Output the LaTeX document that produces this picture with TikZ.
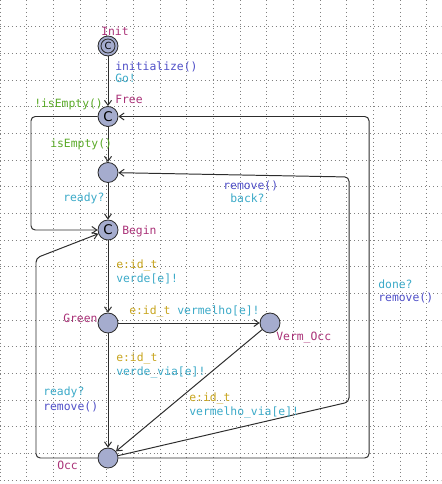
\documentclass[tikz,border=0pt]{standalone}
\usepackage{fontspec}
\newfontfamily\upmono{DejaVu Sans Mono}
\newfontfamily\upsans{DejaVu Sans}
\usetikzlibrary{arrows.meta}
\definecolor{locfill}{RGB}{165,172,206}
\definecolor{edgec}{RGB}{45,45,45}
\definecolor{namec}{RGB}{170,50,120}
\definecolor{guardc}{RGB}{90,170,40}
\definecolor{syncc}{RGB}{60,170,200}
\definecolor{updc}{RGB}{80,80,200}
\definecolor{selc}{RGB}{200,165,30}
\tikzset{
  loc/.style={circle,draw=edgec,fill=locfill,minimum size=14.2pt,inner sep=0pt,line width=0.6pt},
  cmt/.style={loc,font=\upsans\fontsize{9.5}{9.5}\selectfont},
  lbl/.style={anchor=west,inner sep=0pt,font=\upmono\fontsize{8.1}{9}\selectfont},
  tr/.style={draw=edgec,line width=0.7pt,-{Straight Barb[length=3.5pt,width=5pt]},rounded corners=3pt},
  griddot/.style={gray,line width=0.7pt,dash pattern=on 0.7pt off 2.1pt}
}
\begin{document}
\begin{tikzpicture}[x=0.025cm,y=-0.025cm]
\useasboundingbox (0,0) rectangle (441,484);
\foreach \k in {0,...,16}
  \draw[griddot] (\k*26.67,0) -- (\k*26.67,484);
\foreach \k in {1,...,18}
  \draw[griddot] (0,\k*26.67) -- (441,\k*26.67);
\node[cmt,font=\upsans\fontsize{7}{7}\selectfont] (init) at (108,46) {C};
\draw[edgec,line width=0.6pt] (init.center) circle[radius=7];
\node[cmt] (free) at (108,116.5) {C};
\node[loc] (mid) at (108,172.5) {};
\node[cmt] (begin) at (108,230) {C};
\node[loc] (green) at (108,323) {};
\node[loc] (verm) at (270,323) {};
\node[loc] (occ) at (108,458) {};
\coordinate (a1) at (31,116.5);
\coordinate (a2) at (31,230);
\coordinate (b1) at (36,458);
\coordinate (b2) at (36,258);
\coordinate (c1) at (369,458);
\coordinate (c2) at (369,116.5);
\coordinate (d1) at (349,402);
\coordinate (d2) at (349,177);
\draw[tr] (init) -- (free);
\draw[tr] (free) -- (mid);
\draw[tr] (mid) -- (begin);
\draw[tr] (free) -- (a1) -- (a2) -- (begin);
\draw[tr] (begin) -- (green);
\draw[tr] (green) -- (verm);
\draw[tr] (green) -- (occ);
\draw[tr] (verm) -- (occ);
\draw[tr] (occ) -- (b1) -- (b2) -- (begin);
\draw[tr] (occ) -- (c1) -- (c2) -- (free);
\draw[tr] (occ) -- (d1) -- (d2) -- (mid);
\node[lbl,text=namec] (ninit) at (101,31) {Init};
\node[lbl,text=updc] (u1) at (115,67) {initialize()};
\node[lbl,text=syncc] (s1) at (115,78) {Go!};
\node[lbl,text=namec] (nfree) at (115,99.5) {Free};
\node[lbl,text=guardc] (g1) at (34,104.5) {!isEmpty()};
\node[lbl,text=guardc] (g2) at (50,144) {isEmpty()};
\node[lbl,text=syncc] (s2) at (63,198.5) {ready?};
\node[lbl,text=namec] (nbegin) at (122,231) {Begin};
\node[lbl,text=updc] (u2) at (223,185.5) {remove()};
\node[lbl,text=syncc] (s3) at (230,198) {back?};
\node[lbl,text=syncc] (s4) at (378,284) {done?};
\node[lbl,text=updc] (u3) at (378,298) {remove()};
\node[lbl,text=selc] (e1) at (116,266) {e:id\_t};
\node[lbl,text=syncc] (s5) at (116,278.5) {verde[e]!};
\node[lbl,text=namec] (ngreen) at (63,318.5) {Green};
\node[lbl] (e2) at (129,311.5) {\textcolor{selc}{e:id\_t} \textcolor{syncc}{vermelho[e]!}};
\node[lbl,text=namec] (nverm) at (276,338) {Verm\_Occ};
\node[lbl,text=selc] (e3) at (116,359) {e:id\_t};
\node[lbl,text=syncc] (s6) at (116,372.5) {verde\_via[e]!};
\node[lbl,text=syncc] (s7) at (43,392.5) {ready?};
\node[lbl,text=updc] (u4) at (43,406.5) {remove()};
\node[lbl,text=selc] (e4) at (189,399) {e:id\_t};
\node[lbl,text=syncc] (s8) at (189,412.5) {vermelho\_via[e]!};
\node[lbl,text=namec] (nocc) at (57,465.5) {Occ};
\end{tikzpicture}
\end{document}
